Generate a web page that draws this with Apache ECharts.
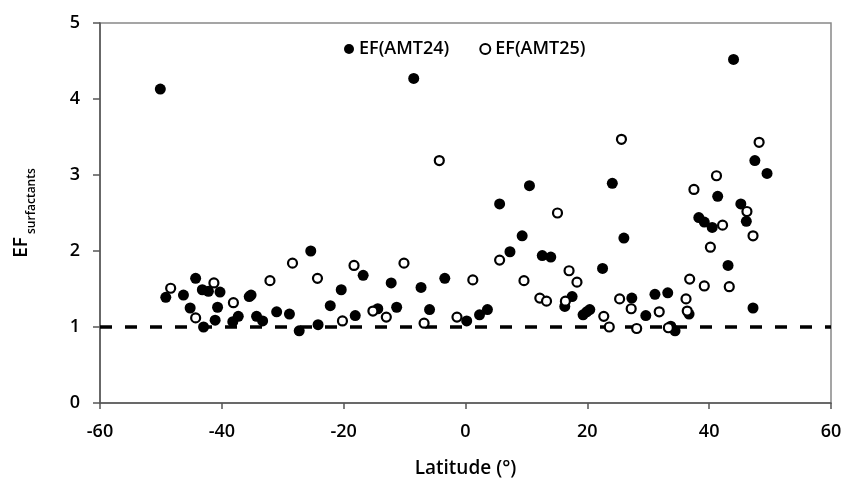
<!DOCTYPE html>
<html>
<head>
<meta charset="utf-8">
<script src="https://cdn.jsdelivr.net/npm/echarts@6/dist/echarts.min.js"></script>
<style>html,body{margin:0;padding:0;background:#fff}#c{width:845px;height:483px}</style>
</head>
<body>
<div id="c"></div>
<script>
// AMT24 (filled): latitude and EF
const amt24Lat = [-50.1,-8.5,44.0,47.5,49.5,41.4,10.5,24.1,5.6,45.2,46.1,38.3,39.2,40.5,43.1,36.7,47.2,33.2,31.1,29.6,26.0,22.5,27.3,33.7,34.4,17.5,16.3,19.3,19.9,20.4,12.6,14.0,9.3,7.3,2.3,3.6,0.2,-25.4,-16.8,-12.2,-7.3,-3.4,-20.4,-22.2,-18.1,-24.2,-27.3,-28.9,-31.0,-14.4,-11.3,-5.9,-35.2,-35.5,-37.3,-38.2,-34.3,-33.3,-49.2,-46.3,-44.3,-43.2,-42.2,-40.3,-45.2,-43.0,-41.1,-40.7];
const amt24EF  = [4.13,4.27,4.52,3.19,3.02,2.72,2.86,2.89,2.62,2.62,2.39,2.44,2.38,2.31,1.81,1.17,1.25,1.45,1.43,1.15,2.17,1.77,1.38,1.01,0.95,1.40,1.27,1.16,1.20,1.23,1.94,1.92,2.20,1.99,1.16,1.23,1.08,2.00,1.68,1.58,1.52,1.64,1.49,1.28,1.15,1.03,0.95,1.17,1.20,1.24,1.26,1.23,1.42,1.40,1.14,1.07,1.14,1.08,1.39,1.42,1.64,1.49,1.47,1.46,1.25,1.00,1.09,1.26];
// AMT25 (open)
const amt25Lat = [-4.3,25.6,48.2,41.2,37.5,15.1,46.2,47.2,42.2,40.2,43.3,39.2,36.8,36.2,36.4,31.8,27.2,25.3,22.7,23.6,28.1,33.3,16.4,17.0,18.3,12.2,13.3,5.6,9.6,1.2,-1.4,-28.4,-24.3,-18.3,-10.1,-20.2,-32.1,-15.2,-13.0,-6.8,-38.1,-48.4,-41.3,-44.3];
const amt25EF  = [3.19,3.47,3.43,2.99,2.81,2.50,2.52,2.20,2.34,2.05,1.53,1.54,1.63,1.37,1.21,1.20,1.24,1.37,1.14,1.00,0.98,0.99,1.34,1.74,1.59,1.38,1.34,1.88,1.61,1.62,1.13,1.84,1.64,1.81,1.84,1.08,1.61,1.21,1.13,1.05,1.32,1.51,1.58,1.12];
const xTicks = [-60,-40,-20,0,20,40,60];
const yTicks = [0,1,2,3,4,5];
const refLine = 1;
const seriesNames = ['EF(AMT24)','EF(AMT25)'];

const zip = (a,b) => a.map((v,i)=>[v,b[i]]);
const font = '"Open Sans", sans-serif';
const chart = echarts.init(document.getElementById('c'), null, {renderer:'canvas'});
chart.setOption({
  animation:false,
  backgroundColor:'#fff',
  grid:{left:100,right:14,top:23,bottom:76,show:true,borderColor:'#888',borderWidth:1.5},
  legend:{
    left:339, top:35, itemGap:30, itemWidth:10, itemHeight:10,
    textStyle:{fontFamily:font,fontSize:18,color:'#000',fontWeight:600},
    data:[{name:seriesNames[0],icon:'circle'},{name:seriesNames[1],icon:'circle'}]
  },
  xAxis:{
    type:'value',min:xTicks[0],max:xTicks[xTicks.length-1],interval:20,
    name:'Latitude (°)',nameLocation:'middle',nameGap:56,
    nameTextStyle:{fontFamily:font,fontSize:19,color:'#000',fontWeight:600},
    axisLine:{onZero:false,lineStyle:{color:'#555',width:1.5}},
    axisTick:{show:true,length:6,lineStyle:{color:'#555',width:1.5}},
    axisLabel:{fontFamily:font,fontSize:18,color:'#000',margin:20,fontWeight:600},
    splitLine:{show:false}
  },
  yAxis:{
    type:'value',min:yTicks[0],max:yTicks[yTicks.length-1],interval:1,
    name:'{a|EF}{b| surfactants}',nameLocation:'middle',nameGap:62,nameRotate:90,
    nameTextStyle:{rich:{
      a:{fontFamily:font,fontSize:19,color:'#000',lineHeight:26,verticalAlign:'top',fontWeight:600},
      b:{fontFamily:font,fontSize:12,color:'#000',lineHeight:26,verticalAlign:'bottom',padding:[10,0,0,0],fontWeight:600}
    }},
    axisLine:{show:true,onZero:false,lineStyle:{color:'#555',width:1.5}},
    axisTick:{show:true,length:7,lineStyle:{color:'#555',width:1.5}},
    axisLabel:{fontFamily:font,fontSize:18,color:'#000',margin:20,fontWeight:600},
    splitLine:{show:false}
  },
  series:[
    {
      name:seriesNames[0],type:'scatter',symbol:'circle',symbolSize:11,
      itemStyle:{color:'#000',borderColor:'#000',borderWidth:0,opacity:1},
      data:zip(amt24Lat,amt24EF),z:3,
      markLine:{
        silent:true,symbol:'none',label:{show:false},
        lineStyle:{color:'#000',type:[12,13],width:3.5},
        data:[{yAxis:refLine}],z:2
      }
    },
    {
      name:seriesNames[1],type:'scatter',symbol:'circle',symbolSize:9,
      itemStyle:{color:'#fff',borderColor:'#000',borderWidth:2.2,opacity:1},
      data:zip(amt25Lat,amt25EF),z:4
    }
  ]
});
</script>
</body>
</html>
